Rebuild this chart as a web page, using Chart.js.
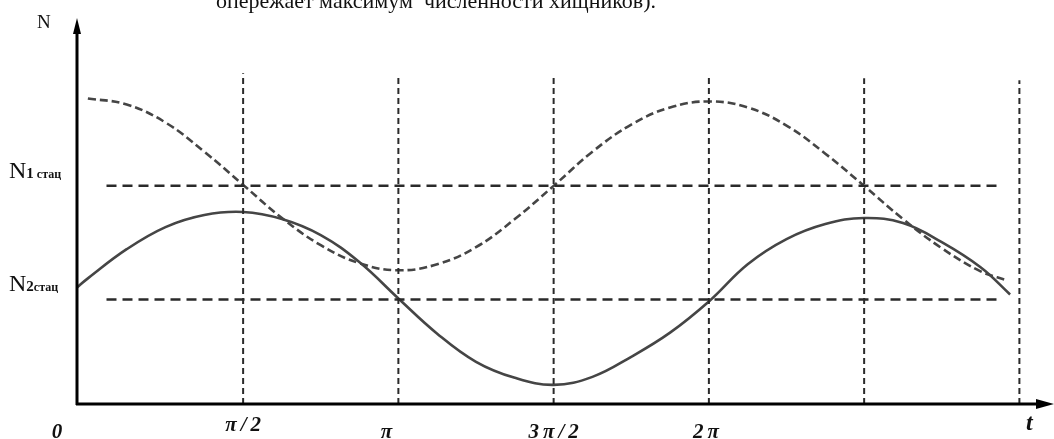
<!DOCTYPE html>
<html>
<head>
<meta charset="utf-8">
<script src="https://cdn.jsdelivr.net/npm/chart.js@4.4.1/dist/chart.umd.min.js"></script>
<style>
html,body{margin:0;padding:0;background:#fff;}
#wrap{width:1054px;height:439px;position:relative;}
</style>
</head>
<body>
<div id="wrap"><canvas id="c" width="1054" height="439"></canvas></div>
<script>
// time in units of pi
const tPrey = [0,0.125,0.25,0.375,0.5,0.625,0.75,0.875,1,1.125,1.25,1.375,1.5,1.625,1.75,1.875,2,2.125,2.25,2.375,2.5,2.625,2.75,2.875,2.96];
const nPrey = [304,298,280,251,218,185,158,140,133,139,156,184,217,251,278,295,301,295,277,249,217,184,155,132,123];
const tPred = [-0.035,0,0.125,0.25,0.375,0.5,0.625,0.75,0.875,1,1.125,1.25,1.375,1.5,1.625,1.75,1.875,2,2.125,2.25,2.375,2.5,2.625,2.75,2.875,2.97];
const nPred = [116,125,154,176,188,191,184,168,141,105,70,42,26,19,27,47,71,102,139,164,179,185,180,161,136,109];
const n1Stat = 217, n2Stat = 104;
const statT = [0.06, 2.93];
const vertT = [0.5,1,1.5,2,2.5,3];
const vertTop = [329,326,326,326,324,322];
const tickVals = [0,0.5,1,1.5,2];
const tickLabels = ['0','π/2','π','3π/2','2π'];
const xMin = -0.035, xMax = 3.105, yMax = 384;

const curveColor = '#454545';
const datasets = [];
vertT.forEach((t,i)=>{
  datasets.push({data:[{x:t,y:0},{x:t,y:vertTop[i]}],borderColor:'#2a2a2a',borderWidth:2,borderDash:[6,4],pointRadius:0,showLine:true,tension:0});
});
datasets.push({data:statT.map(t=>({x:t,y:n1Stat})),borderColor:'#2a2a2a',borderWidth:2.5,borderDash:[10,6],pointRadius:0,showLine:true});
datasets.push({data:statT.map(t=>({x:t,y:n2Stat})),borderColor:'#2a2a2a',borderWidth:2.5,borderDash:[10,6],pointRadius:0,showLine:true});
datasets.push({data:tPrey.map((t,i)=>({x:t,y:nPrey[i]})),borderColor:curveColor,borderWidth:2.6,borderDash:[8,4],pointRadius:0,showLine:true,tension:0.4});
datasets.push({data:tPred.map((t,i)=>({x:t,y:nPred[i]})),borderColor:curveColor,borderWidth:2.6,pointRadius:0,showLine:true,tension:0.4});

const decor = {
  id:'decor',
  afterDraw(chart){
    const ctx = chart.ctx, a = chart.chartArea;
    const xs = chart.scales.x, ys = chart.scales.y;
    ctx.save();
    ctx.fillStyle = '#111';
    // top caption (cut off)
    ctx.font = '22px "Liberation Serif"';
    ctx.textAlign = 'center'; ctx.textBaseline = 'alphabetic';
    ctx.fillText('опережает максимум  численности хищников).', 436, 8);
    // axes
    ctx.strokeStyle = '#000'; ctx.lineWidth = 3;
    const x0 = xs.getPixelForValue(xMin), y0 = ys.getPixelForValue(0);
    ctx.beginPath(); ctx.moveTo(x0, y0+1); ctx.lineTo(x0, a.top+12); ctx.stroke();
    ctx.beginPath(); ctx.moveTo(x0-1, y0); ctx.lineTo(a.right-14, y0); ctx.stroke();
    ctx.fillStyle = '#000';
    ctx.beginPath(); ctx.moveTo(x0, a.top); ctx.lineTo(x0-4, a.top+16); ctx.lineTo(x0+4, a.top+16); ctx.closePath(); ctx.fill();
    ctx.beginPath(); ctx.moveTo(a.right+2, y0); ctx.lineTo(a.right-16, y0-5); ctx.lineTo(a.right-16, y0+5); ctx.closePath(); ctx.fill();
    // axis names
    ctx.fillStyle = '#111';
    ctx.font = '19px "Liberation Serif"'; ctx.textAlign='left'; ctx.textBaseline='alphabetic';
    ctx.fillText('N', 37, 28);
    ctx.font = 'italic bold 24px "Liberation Serif"';
    ctx.fillText('t', 1026, 430);
    // tick labels
    ctx.font = 'italic bold 21px "Liberation Serif"'; ctx.textAlign='center';
    ctx.letterSpacing = '4px';
    tickVals.forEach((v,i)=>{
      let px = xs.getPixelForValue(v), py = 438;
      if(i===0){ px = x0 - 20; }
      if(i===1){ py = 431; }
      if(i===2){ px -= 12; }
      if(i===4){ px -= 3; }
      ctx.fillText(tickLabels[i], px + 2, py);
    });
    ctx.letterSpacing = '0px';
    // stationary labels
    ctx.textAlign='left';
    [[n1Stat,'1 стац'],[n2Stat,'2стац']].forEach(([v,sub])=>{
      const py = ys.getPixelForValue(v) - 8;
      ctx.font = '24px "Liberation Serif"';
      ctx.fillText('N', 9, py);
      const w = ctx.measureText('N').width;
      ctx.font = 'bold 15px "Liberation Serif"';
      const d = sub.charAt(0);
      ctx.fillText(d, 9+w, py);
      const w2 = ctx.measureText(d).width;
      ctx.font = 'bold 12px "Liberation Serif"';
      ctx.fillText(sub.slice(1), 9+w+w2, py);
    });
    ctx.restore();
  }
};

new Chart(document.getElementById('c'), {
  type:'scatter',
  data:{datasets},
  options:{
    responsive:false, animation:false,
    layout:{padding:{left:77,right:2,top:18,bottom:35}},
    plugins:{legend:{display:false},tooltip:{enabled:false}},
    scales:{
      x:{type:'linear',min:xMin,max:xMax,display:false},
      y:{type:'linear',min:0,max:yMax,display:false}
    }
  },
  plugins:[decor]
});
</script>
</body>
</html>
